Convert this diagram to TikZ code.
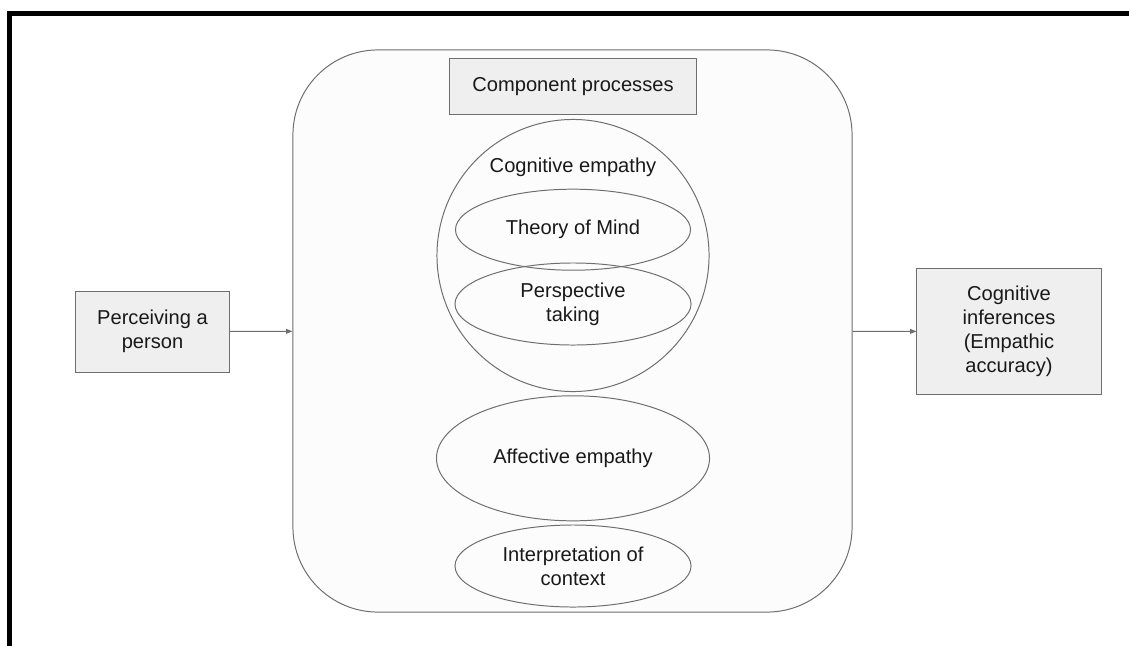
\documentclass[tikz,border=0pt]{standalone}
\usepackage{fontspec}
\setmainfont{Liberation Sans}
\usetikzlibrary{shapes.geometric,arrows.meta}
\definecolor{boxgray}{HTML}{EFEFEF}
\definecolor{linegray}{HTML}{6E6E6E}

\begin{document}
\begin{tikzpicture}[x=0.025cm,y=-0.025cm,
        every node/.style={font=\fontsize{14.3pt}{17.1pt}\selectfont,text=black!90,align=center,inner sep=0pt},
        greybox/.style={draw=linegray,fill=boxgray,line width=0.7pt},
        blob/.style={ellipse,draw=linegray,line width=0.7pt},
        link/.style={draw=linegray,line width=0.7pt,-{Triangle[length=0.16cm,width=0.12cm]}}]
        \useasboundingbox(0,0)rectangle(1129,645);
        \draw[line width=0.125cm](1135,13.5)--(9.5,13.5)--(9.5,650);
        \node[draw=linegray,line width=0.7pt,fill=black!1,rounded corners=2.125cm,minimum width=13.975cm,minimum height=14.05cm](proc)at(572.5,331){};
        \node[greybox,minimum width=6.175cm,minimum height=1.4cm](comp)at(573,86.3){Component processes};
        \node[circle,draw=linegray,line width=0.7pt,minimum size=6.8cm](cog)at(573,255.5){};
        \node(cogtxt)at(573,167){Cognitive empathy};
        \node[blob,minimum width=5.875cm,minimum height=2.025cm](tom)at(573,229.7){Theory of Mind};
        \node[blob,minimum width=5.9cm,minimum height=2.05cm](persp)at(573,304){Perspective\\taking};
        \node[blob,minimum width=6.825cm,minimum height=3.125cm](aff)at(573,458.3){Affective empathy};
        \node[blob,minimum width=5.9cm,minimum height=2.05cm](interp)at(573,566){Interpretation of\\context};
        \node[greybox,minimum width=3.825cm,minimum height=2.025cm](perc)at(152.5,331.5){Perceiving a\\person};
        \node[greybox,minimum width=4.6cm,minimum height=3.125cm](inf)at(1009,331.5){Cognitive\\inferences\\(Empathic\\accuracy)};
        \draw[link](perc)--(proc);
        \draw[link](proc)--(inf);
    \end{tikzpicture}
\end{document}
